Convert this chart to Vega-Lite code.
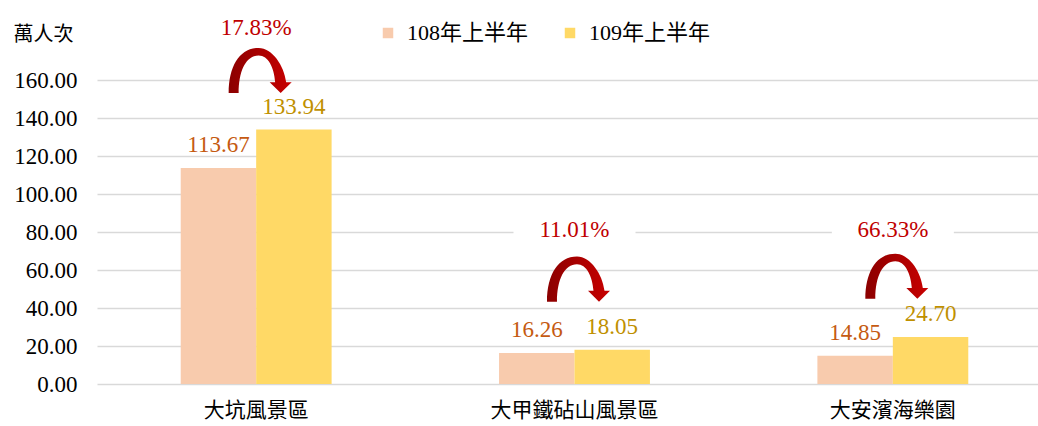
{
  "$schema": "https://vega.github.io/schema/vega-lite/v6.json",
  "width": 941,
  "height": 304,
  "autosize": {"type": "none"},
  "padding": {"left": 97, "top": 80, "right": 0, "bottom": 42},
  "config": {
    "view": {"stroke": null},
    "font": "Liberation Serif",
    "axisY": {"values": [0, 20, 40, 60, 80, 100, 120, 140, 160], "labelOverlap": false, "format": ".2f", "labelFontSize": 23, "labelFont": "Liberation Serif", "labelColor": "#000000", "domain": false, "ticks": false, "labelPadding": 20, "gridColor": "#D9D9D9", "gridWidth": 1.5, "titleAngle": 0, "titleAlign": "left", "titleBaseline": "middle", "titleX": -84, "titleY": -46, "titleFont": "Noto Sans CJK TC", "titleFontSize": 20, "titleFontWeight": "normal", "titleColor": "#000000"},
    "axisX": {"domain": false, "ticks": false, "labelAngle": 0, "labelFont": "Noto Sans CJK TC", "labelFontSize": 21, "labelColor": "#000000", "labelPadding": 15, "labelBaseline": "top"}
  },
  "datasets": {
    "bars": [
      {"area": "大坑風景區", "series": "108年上半年", "value": 113.67},
      {"area": "大坑風景區", "series": "109年上半年", "value": 133.94},
      {"area": "大甲鐵砧山風景區", "series": "108年上半年", "value": 16.26},
      {"area": "大甲鐵砧山風景區", "series": "109年上半年", "value": 18.05},
      {"area": "大安濱海樂園", "series": "108年上半年", "value": 14.85},
      {"area": "大安濱海樂園", "series": "109年上半年", "value": 24.70}
    ],
    "ann": [
      {"area": "大坑風景區", "pct": "17.83%", "label_y": 183.6, "arrow_y": 165},
      {"area": "大甲鐵砧山風景區", "pct": "11.01%", "label_y": 77.5, "arrow_y": 55.2},
      {"area": "大安濱海樂園", "pct": "66.33%", "label_y": 77.5, "arrow_y": 56.7}
    ]
  },
  "encoding": {
    "x": {
      "field": "area", "type": "nominal", "title": null,
      "scale": {"domain": ["大坑風景區", "大甲鐵砧山風景區", "大安濱海樂園"], "range": [0, 955], "paddingInner": 0.526, "paddingOuter": 0.263}
    }
  },
  "layer": [
    {
      "data": {"name": "bars"},
      "mark": {"type": "bar"},
      "encoding": {
        "xOffset": {"field": "series", "type": "nominal", "scale": {"domain": ["108年上半年", "109年上半年"], "paddingInner": 0, "paddingOuter": 0}},
        "y": {
          "field": "value", "type": "quantitative", "title": "萬人次",
          "scale": {"domain": [0, 160], "nice": false}
        },
        "color": {
          "field": "series", "type": "nominal",
          "scale": {"domain": ["108年上半年", "109年上半年"], "range": ["#F8CBAD", "#FFD966"]},
          "legend": {
            "title": null, "orient": "none", "legendX": 280, "legendY": -58, "direction": "horizontal",
            "symbolType": "square", "symbolSize": 110, "symbolStrokeWidth": 0,
            "labelFont": "Liberation Serif, Noto Sans CJK TC", "labelFontSize": 22, "labelColor": "#000000",
            "columnPadding": 30, "labelOffset": 8, "labelLimit": 300
          }
        }
      }
    },
    {
      "data": {"name": "bars"},
      "mark": {"type": "text", "baseline": "alphabetic", "dy": -16, "font": "Liberation Serif", "fontSize": 23},
      "encoding": {
        "xOffset": {"field": "series", "type": "nominal"},
        "y": {"field": "value", "type": "quantitative", "title": "萬人次", "scale": {"domain": [0, 160], "nice": false}},
        "text": {"field": "value", "type": "quantitative", "format": ".2f"},
        "color": {"condition": {"test": "datum.series === '108年上半年'", "value": "#C55A11"}, "value": "#BF9000"}
      }
    },
    {
      "data": {"name": "ann"},
      "mark": {"type": "point", "shape": "M-1,-0.23H1V0.23H-1Z", "filled": true, "fill": "#FFFFFF", "opacity": 1, "strokeWidth": 0, "size": 14884, "yOffset": -7},
      "encoding": {
        "y": {"field": "label_y", "type": "quantitative", "title": "萬人次", "scale": {"domain": [0, 160], "nice": false}}
      }
    },
    {
      "data": {"name": "ann"},
      "mark": {"type": "text", "baseline": "alphabetic", "font": "Liberation Serif", "fontSize": 23, "color": "#C00000"},
      "encoding": {
        "y": {"field": "label_y", "type": "quantitative", "title": "萬人次", "scale": {"domain": [0, 160], "nice": false}},
        "text": {"field": "pct", "type": "nominal"}
      }
    },
    {
      "data": {"name": "ann"},
      "mark": {
        "type": "point",
        "shape": "M-1,0.717C-1,-0.159,-0.635,-0.717,-0.048,-0.717C0.381,-0.717,0.762,-0.159,0.825,0.371L1,0.371L0.651,0.717L0.302,0.371L0.476,0.371C0.444,-0.095,0.254,-0.476,-0.048,-0.476C-0.444,-0.476,-0.683,0,-0.683,0.717Z",
        "filled": true, "opacity": 1, "strokeWidth": 0, "size": 3969, "xOffset": 4,
        "fill": {"gradient": "linear", "x1": 0, "y1": 0, "x2": 1, "y2": 0, "stops": [{"offset": 0, "color": "#8B0000"}, {"offset": 1, "color": "#C80000"}]}
      },
      "encoding": {
        "y": {"field": "arrow_y", "type": "quantitative", "title": "萬人次", "scale": {"domain": [0, 160], "nice": false}}
      }
    }
  ]
}
